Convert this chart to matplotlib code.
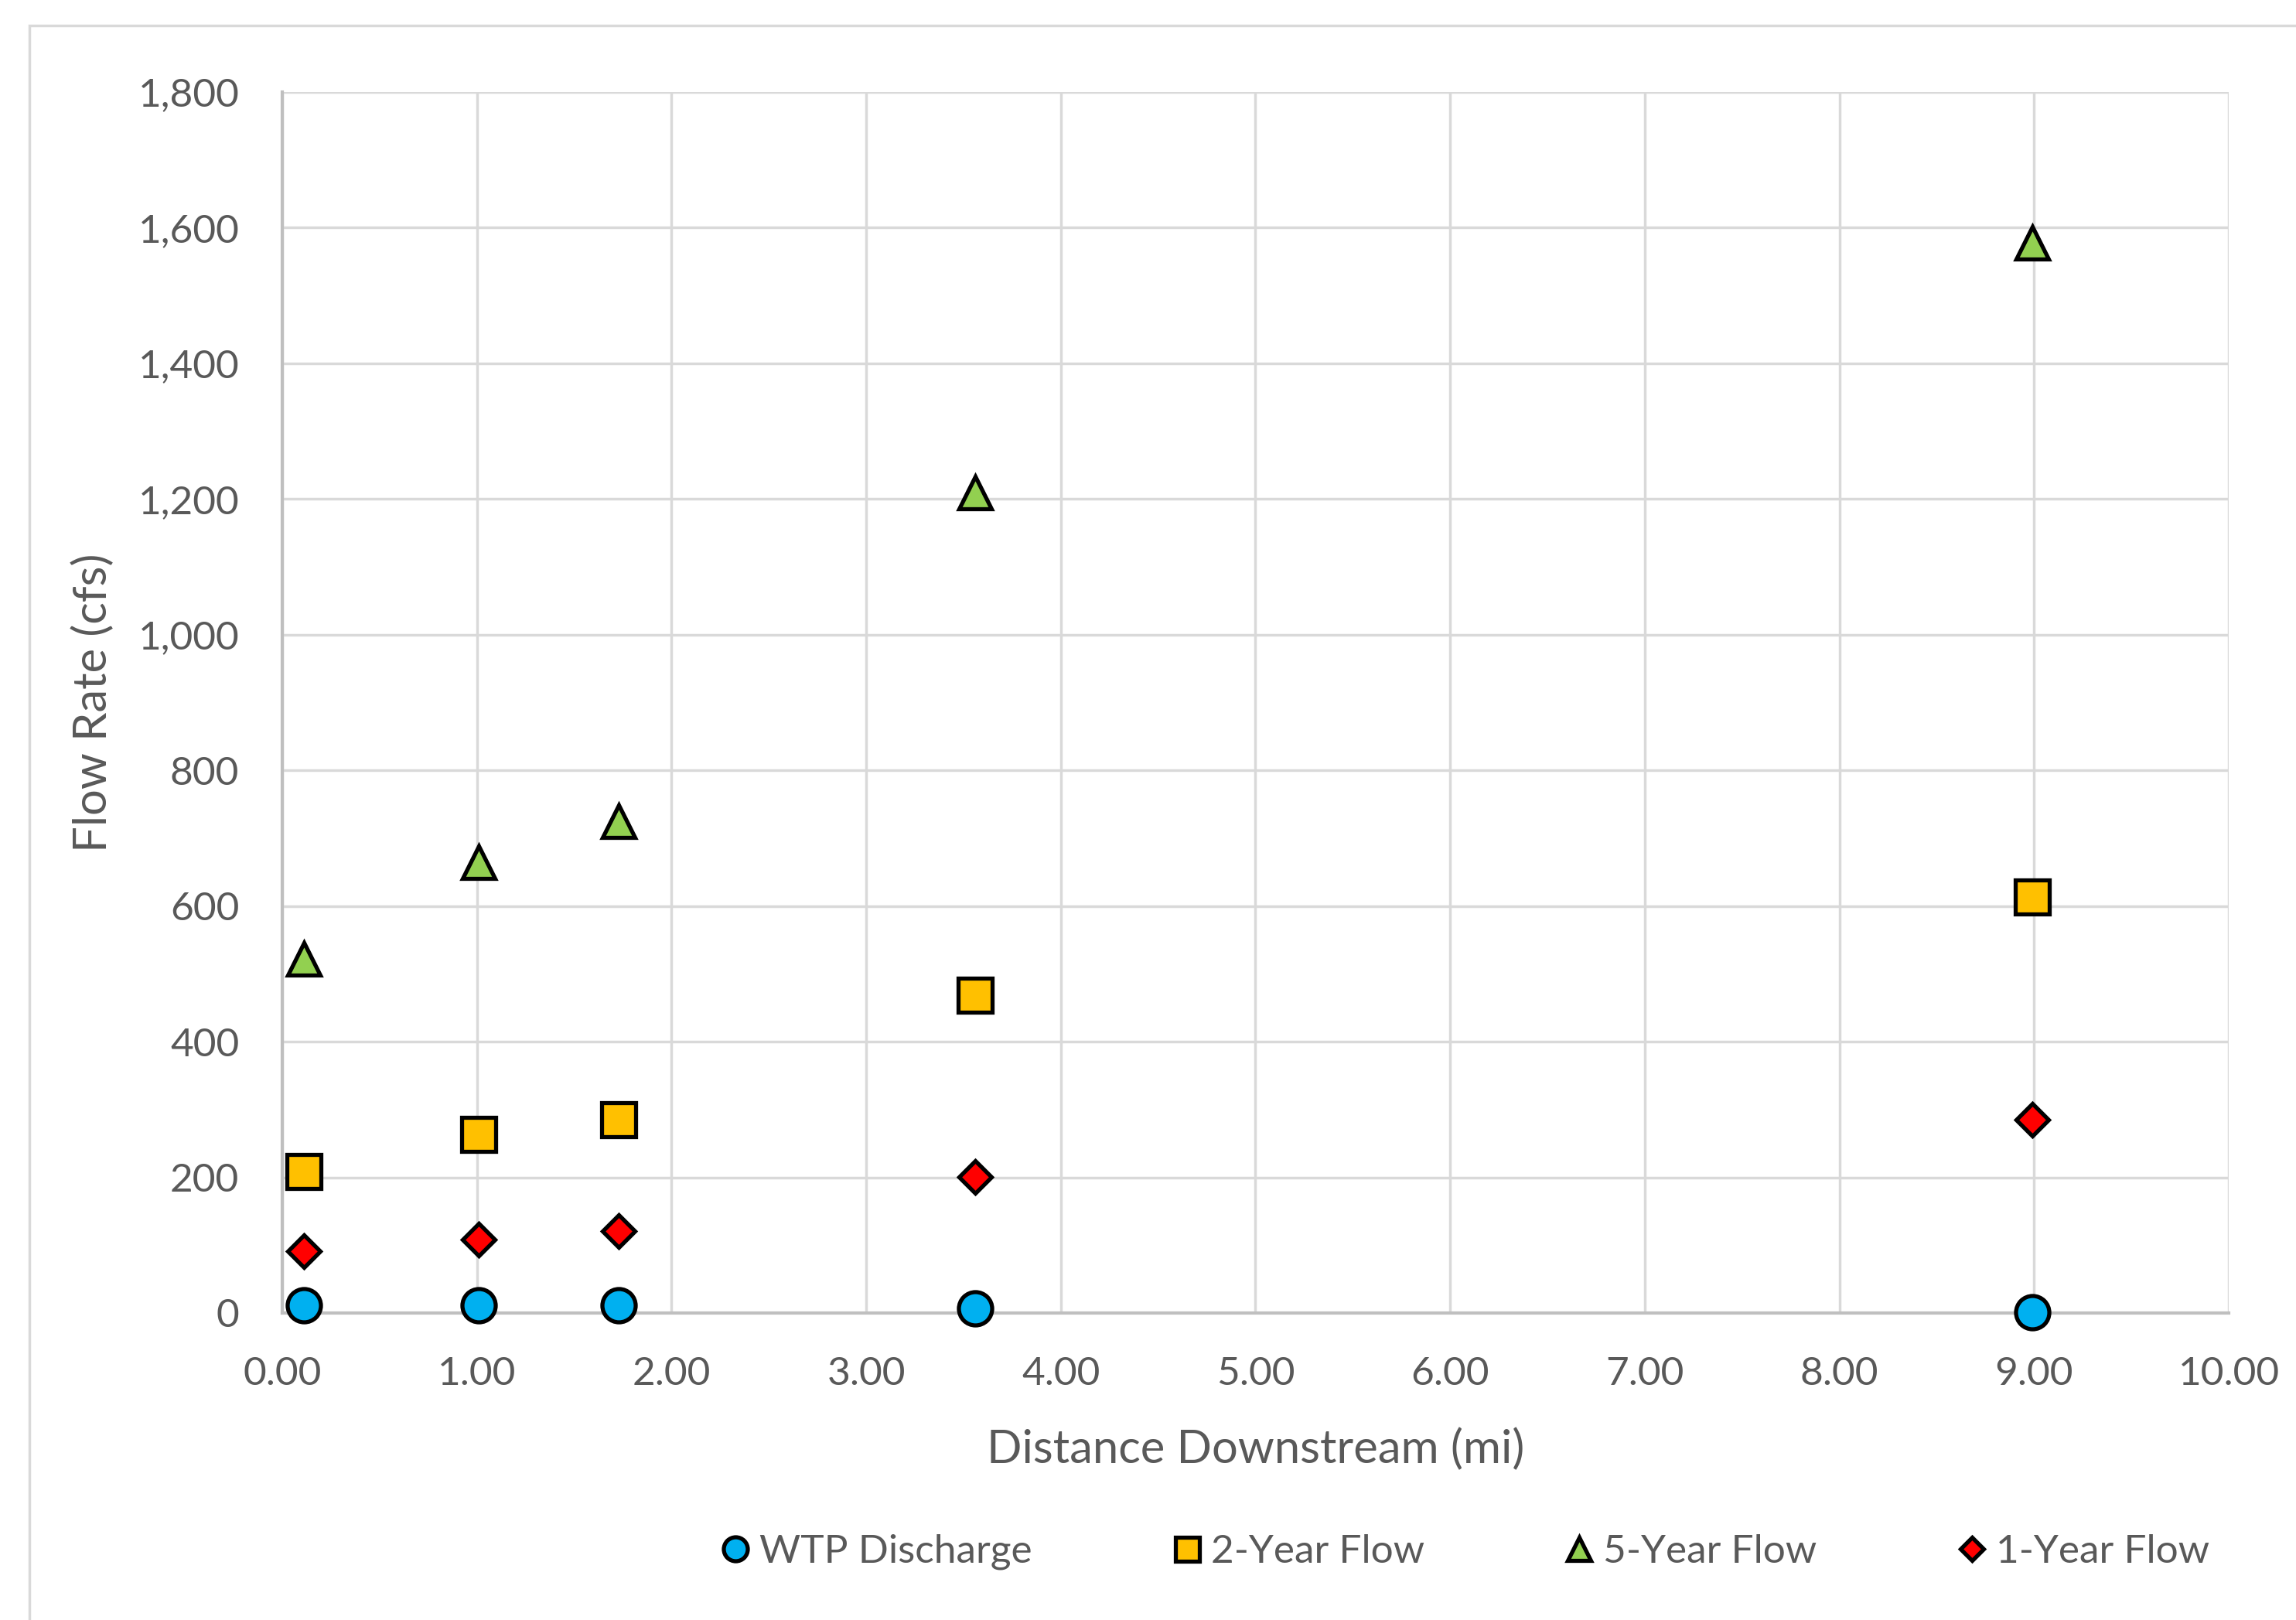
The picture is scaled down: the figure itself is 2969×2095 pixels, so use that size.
import matplotlib.pyplot as plt
from matplotlib.patches import Rectangle
from matplotlib.ticker import FuncFormatter, MultipleLocator

plt.rcParams['font.family'] = ['Lato', 'DejaVu Sans']

# distance downstream (mi) and flow rates (cfs)
distance = [0.11, 1.01, 1.73, 3.56, 8.99]
wtp_discharge = [11, 11, 11, 7, 1]
two_year = [209, 263, 285, 468, 613]
five_year = [522, 665, 725, 1209, 1578]
one_year = [91, 108, 121, 201, 285]

series = [
    ('WTP Discharge', wtp_discharge, 'o', '#00b0f0', 31),
    ('2-Year Flow', two_year, 's', '#ffc000', 31),
    ('5-Year Flow', five_year, '^', '#92d050', 30),
    ('1-Year Flow', one_year, 'D', '#ff0000', 21),
]

text_color = '#595959'

fig = plt.figure(figsize=(29.69, 20.95), dpi=100)
fig.patches.append(Rectangle((38 / 2969, -0.1), 1.2, 1.1 - 33 / 2095,
                             transform=fig.transFigure, fill=False,
                             edgecolor='#d9d9d9', linewidth=2.5))

ax = fig.add_axes([0.1229, 0.1895, 0.8478, 0.7537])

for name, vals, mk, col, ms in series:
    ax.plot(distance, vals, linestyle='none', marker=mk, markersize=ms,
            markerfacecolor=col, markeredgecolor='black', markeredgewidth=3.8,
            label=name, clip_on=False, zorder=3)

ax.set_xlim(0, 10)
ax.set_ylim(0, 1800)
ax.xaxis.set_major_locator(MultipleLocator(1))
ax.yaxis.set_major_locator(MultipleLocator(200))
ax.xaxis.set_major_formatter(FuncFormatter(lambda v, p: f'{v:.2f}'))
ax.yaxis.set_major_formatter(FuncFormatter(lambda v, p: f'{v:,.0f}'))
ax.grid(True, color='#d9d9d9', linewidth=2.5)
ax.set_axisbelow(True)
for s in ['top', 'right']:
    ax.spines[s].set_visible(False)
for s in ['left', 'bottom']:
    ax.spines[s].set_color('#bfbfbf')
    ax.spines[s].set_linewidth(3)
ax.tick_params(length=0, labelsize=37, colors=text_color)
ax.tick_params(axis='y', pad=40)
ax.tick_params(axis='x', pad=40)

ax.set_xlabel('Distance Downstream (mi)', fontsize=43, color=text_color, labelpad=34)
ax.set_ylabel('Flow Rate (cfs)', fontsize=43, color=text_color, labelpad=22)

fig.legend(loc='center', bbox_to_anchor=(0.6387, 0.042), ncol=4, frameon=False,
           fontsize=37, labelcolor=text_color, handlelength=0.6,
           handletextpad=0.3, columnspacing=3.6, markerscale=0.72)

fig.savefig('out.png', dpi=100)
